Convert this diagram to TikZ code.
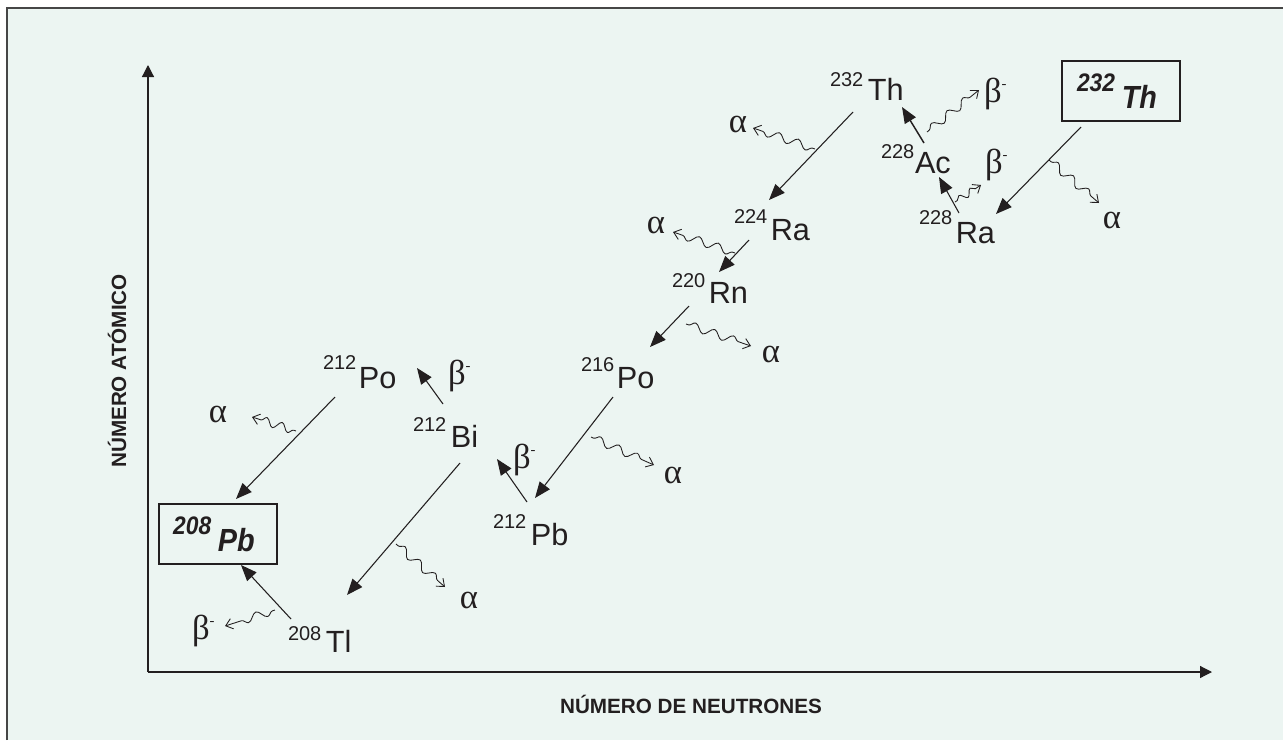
\documentclass[tikz,border=0pt]{standalone}
\usepackage{fontspec}
\setmainfont{Liberation Sans}
\newfontfamily\nucfont{Liberation Sans}
\newfontfamily\boxfont[FakeStretch=0.9]{Liberation Sans}
\newfontfamily\axfont{Liberation Sans}
\newfontfamily\grkfont{Liberation Serif}
\usetikzlibrary{arrows.meta,decorations.pathmorphing}
\definecolor{ink}{RGB}{35,31,32}
\definecolor{bgmint}{RGB}{236,245,242}
\newcommand{\Nucl}[4]{{\fontsize{15pt}{15pt}\selectfont\raisebox{#3}{#1}}\hspace{#4}{\fontsize{23pt}{23pt}\selectfont #2}}
\newcommand{\Boxnuc}[2]{{\fontsize{19pt}{19pt}\selectfont\raisebox{13pt}{#1}}\hspace{5pt}{\fontsize{24pt}{24pt}\selectfont #2}\hspace*{6pt}}
\newcommand{\Betam}{β\raisebox{10pt}{\fontsize{11pt}{11pt}\selectfont -}}
\begin{document}
\begin{tikzpicture}[x=0.75pt,y=-0.75pt,
  every node/.style={inner sep=0pt, outer sep=0pt, text=ink},
  nuc/.style={anchor=base west, font=\nucfont},
  grk/.style={font=\grkfont\fontsize{26pt}{26pt}\selectfont},
  axlab/.style={font=\axfont\bfseries\fontsize{15.5pt}{15.5pt}\selectfont},
  decay/.style={draw=ink, line width=0.8pt, -{Triangle[length=12pt,width=9.5pt]}},
  decayb/.style={decay, line width=1.1pt},
  emit/.style={draw=ink, line width=0.65pt, decorate,
    decoration={snake, amplitude=3pt, segment length=15pt, pre length=2pt, post length=6pt},
    -{Straight Barb[length=5pt,width=8pt]}},
  axis/.style={draw=ink, line width=0.9pt, -{Triangle[length=9pt,width=9pt]}},
  boxed/.style={draw=ink, line width=0.8pt, minimum width=88.5pt, minimum height=45pt,
    font=\boxfont\bfseries\itshape}
]
\useasboundingbox (0,0) rectangle (1283,740);
\fill[white] (0,0) rectangle (1283,740);
\fill[bgmint] (7,8) rectangle (1283,740);
\draw[gray!55!black, line width=1.1pt] (7,740) -- (7,8) -- (1283,8);

% axes
\coordinate (O) at (148,672);
\coordinate (ytop) at (148,65);
\coordinate (xend) at (1212,672);
\draw[axis] (O) -- (ytop);
\draw[axis] (O) -- (xend);
\node[rotate=90, axlab] (ylab) at (117,371) {NÚMERO ATÓMICO};
\node[axlab] (xlab) at (691,704.5) {NÚMERO DE NEUTRONES};

% nuclides
\node[nuc] (th232) at (830,100) {\Nucl{232}{Th}{10.5pt}{3.4pt}};
\node[nuc] (ac228) at (881,173) {\Nucl{228}{Ac}{11.25pt}{0.5pt}};
\node[nuc] (ra228) at (919,243) {\Nucl{228}{Ra}{14pt}{2.6pt}};
\node[nuc] (ra224) at (734,240) {\Nucl{224}{Ra}{12.75pt}{2.6pt}};
\node[nuc] (rn220) at (672,303) {\Nucl{220}{Rn}{12pt}{2.6pt}};
\node[nuc] (po216) at (581,388) {\Nucl{216}{Po}{12.75pt}{1.9pt}};
\node[nuc] (po212) at (323,388) {\Nucl{212}{Po}{14.25pt}{1.9pt}};
\node[nuc] (bi212) at (413,447) {\Nucl{212}{Bi}{12pt}{3.4pt}};
\node[nuc] (pb212) at (493,545) {\Nucl{212}{Pb}{12.75pt}{3.4pt}};
\node[nuc] (tl208) at (288,652) {\Nucl{208}{Tl}{9pt}{3.4pt}};
\node[boxed] (box232) at (1121,91) {\Boxnuc{232}{Th}};
\node[boxed] (box208) at (218,534) {\Boxnuc{208}{Pb}};

% decay arrow end points
\coordinate (aS) at (853,112); \coordinate (aE) at (769,200);
\coordinate (bS) at (1081,127); \coordinate (bE) at (996,214);
\coordinate (cS) at (959,213); \coordinate (cE) at (939,177);
\coordinate (dS) at (924,143); \coordinate (dE) at (902,107);
\coordinate (eS) at (749,240); \coordinate (eE) at (719,272);
\coordinate (fS) at (689,306); \coordinate (fE) at (650,347);
\coordinate (gS) at (613,397); \coordinate (gE) at (535,498);
\coordinate (hS) at (527,502); \coordinate (hE) at (497,459);
\coordinate (iS) at (443,404); \coordinate (iE) at (417,368);
\coordinate (jS) at (460,463); \coordinate (jE) at (347,595);
\coordinate (kS) at (335,397); \coordinate (kE) at (236,499);
\coordinate (lS) at (291,619); \coordinate (lE) at (241,565);

\draw[decay] (aS) -- (aE);
\draw[decay] (bS) -- (bE);
\draw[decay] (cS) -- (cE);
\draw[decayb] (dS) -- (dE);
\draw[decay] (eS) -- (eE);
\draw[decay] (fS) -- (fE);
\draw[decay] (gS) -- (gE);
\draw[decay] (hS) -- (hE);
\draw[decay] (iS) -- (iE);
\draw[decay] (jS) -- (jE);
\draw[decay] (kS) -- (kE);
\draw[decay] (lS) -- (lE);

% emitted particles
\coordinate (waS) at (815,149); \coordinate (waE) at (753,128);
\coordinate (wbS) at (1049,160); \coordinate (wbE) at (1099,203);
\coordinate (wcS) at (927,132); \coordinate (wcE) at (979,90);
\coordinate (wdS) at (955,202); \coordinate (wdE) at (981,185);
\coordinate (weS) at (735,253); \coordinate (weE) at (673,232);
\coordinate (wfS) at (686,324); \coordinate (wfE) at (751,346);
\coordinate (wgS) at (591,437); \coordinate (wgE) at (654,465);
\coordinate (whS) at (296,431); \coordinate (whE) at (252,417);
\coordinate (wiS) at (396,544); \coordinate (wiE) at (445,587);
\coordinate (wjS) at (275,610); \coordinate (wjE) at (225,626);

\draw[emit] (waS) -- (waE);
\draw[emit] (wbS) -- (wbE);
\draw[emit] (wcS) -- (wcE);
\draw[emit, decoration={segment length=10pt, amplitude=2.5pt, post length=4pt}] (wdS) -- (wdE);
\draw[emit] (weS) -- (weE);
\draw[emit] (wfS) -- (wfE);
\draw[emit] (wgS) -- (wgE);
\draw[emit, decoration={segment length=12pt}] (whS) -- (whE);
\draw[emit] (wiS) -- (wiE);
\draw[emit] (wjS) -- (wjE);

% particle labels
\node[grk, anchor=base] (alA) at (738,132) {α};
\node[grk, anchor=base] (alB) at (1112,228) {α};
\node[grk, anchor=base] (alE) at (656,233) {α};
\node[grk, anchor=base] (alF) at (771,362) {α};
\node[grk, anchor=base] (alG) at (673,483) {α};
\node[grk, anchor=base] (alH) at (218,422) {α};
\node[grk, anchor=base] (alI) at (469,608) {α};
\node[grk, anchor=base west] (beC) at (984,102) {\Betam};
\node[grk, anchor=base west] (beD) at (985,173) {\Betam};
\node[grk, anchor=base west] (beI) at (448,384) {\Betam};
\node[grk, anchor=base west] (beH) at (513,468) {\Betam};
\node[grk, anchor=base west] (beJ) at (192,639) {\Betam};
\end{tikzpicture}
\end{document}
